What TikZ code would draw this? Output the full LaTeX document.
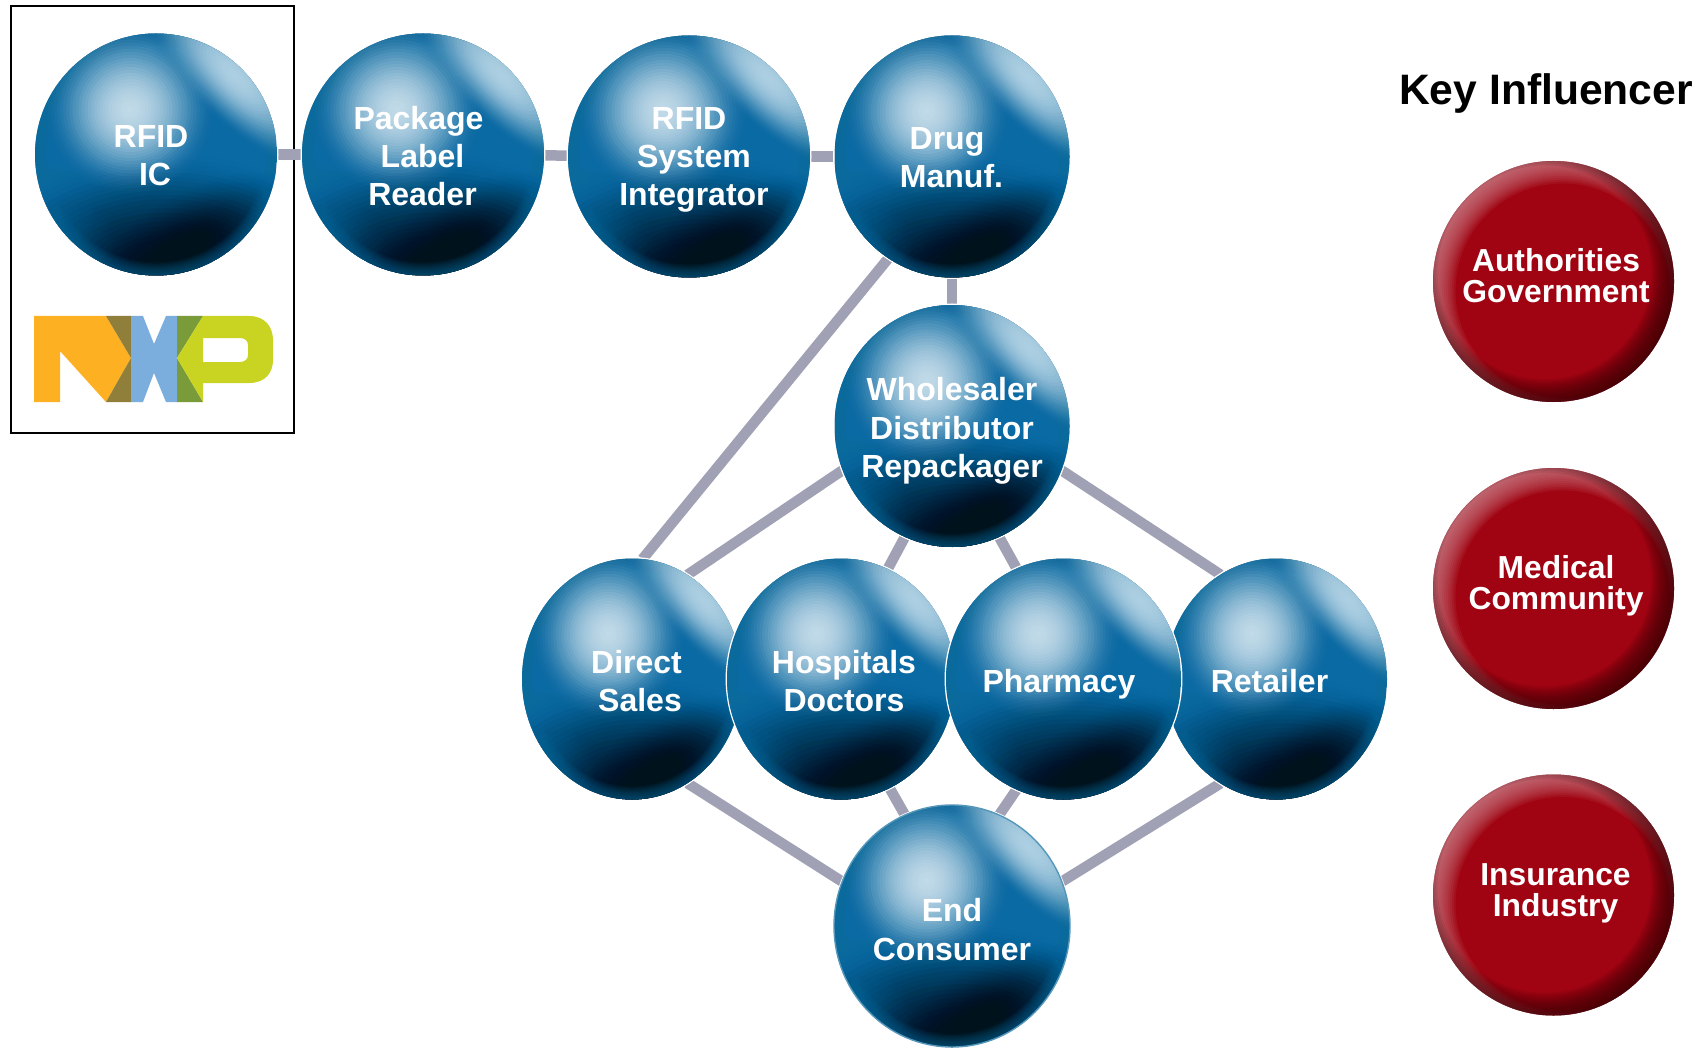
\documentclass[tikz,border=0pt]{standalone}
\usepackage{fontspec}
\setmainfont{Liberation Sans}
\usetikzlibrary{shapes.geometric}
\definecolor{linkgray}{HTML}{A0A1B4}
\definecolor{redbase}{HTML}{A00412}
\definecolor{redlight}{HTML}{D08C96}
\definecolor{reddark}{HTML}{300004}
\definecolor{band}{HTML}{B8D8EA}
\definecolor{hilite}{HTML}{CFE5F1}
\definecolor{darkblob}{HTML}{00121C}
\definecolor{rimblue}{HTML}{0E6A9C}
\definecolor{ballbase}{HTML}{0A6AA3}
\definecolor{balltop}{HTML}{2A88BB}
\definecolor{ballshade}{HTML}{001A2B}
\definecolor{nxporange}{HTML}{FDB122}
\definecolor{nxpbrown}{HTML}{8F7F3A}
\definecolor{nxpblue}{HTML}{7BAEDC}
\definecolor{nxpolive}{HTML}{7A9B3A}
\definecolor{nxplime}{HTML}{C8D322}
\tikzset{
 x=1pt,y=-1pt,
 hub/.style={ellipse,inner sep=0pt,outer sep=0pt},
 link/.style={draw=linkgray,line width=10.5pt},
 ballt/.style={text=white,font=\bfseries\fontsize{32}{38.3}\selectfont,align=center,inner sep=0pt},
 redt/.style={text=white,font=\bfseries\fontsize{31.8}{31}\selectfont,align=center,inner sep=0pt},
 keyt/.style={text=black,font=\bfseries\fontsize{42.6}{48}\selectfont,inner sep=0pt},
}
% \hubnode{name}{x}{y}{rx}{ry}
\newcommand{\hubnode}[5]{\node[hub,minimum width=#4*2pt,minimum height=#5*2pt] (#1) at (#2,#3) {};}
% \softblob{colour}{x}{y}{a}{b}{rotation}{opacity scale}
\newcommand{\softblob}[7]{%
 \begin{scope}[shift={(#2,#3)},rotate=#6]
  \foreach \k in {1,...,28} {\pgfmathsetmacro\opk{#7*2*(1-\k/29)}\fill[#1,opacity=\opk] (0,0) ellipse ({#4*\k/28} and {#5*\k/28});}
 \end{scope}}
% \paintblue{name}{rx}{ry}
\newcommand{\paintblue}[3]{%
 \begin{scope}[shift={(#1.center)},xscale=#2/121,yscale=#3/121]
  \fill[white] (0,0) circle (122.5);
  \clip (0,0) circle (121);
  \fill[ballbase] (-121,-121) rectangle (121,121);
  \softblob{balltop}{0}{-121}{200}{120}{0}{.03}
  \softblob{ballshade}{10}{125}{200}{125}{0}{.12}
  \softblob{rimblue}{-100}{80}{70}{70}{0}{.04}
  \softblob{darkblob}{40}{85}{110}{50}{28}{.05}
  \foreach \k in {0,...,11} {\fill[rimblue,opacity=.07,even odd rule] (0,0) circle (122) (0,0) circle ({108+\k*1.1});}
  \softblob{hilite}{-26}{-45}{85}{85}{0}{.107}
  \softblob{band}{79}{-79}{120}{45}{-45}{.12}
 \end{scope}}
\newcommand{\paintred}[1]{%
 \begin{scope}[shift={(#1.center)}]
  \clip (0,0) circle (120.5);
  \fill[redbase] (-121,-121) rectangle (121,121);
  \foreach \k in {0,...,13} {\fill[redlight,opacity=.09,even odd rule] (-125,-125) rectangle (125,125) (9,9) circle ({107+\k*1.9});}
  \foreach \k in {0,...,13} {\fill[reddark,opacity=.09,even odd rule] (-125,-125) rectangle (125,125) (-9,-9) circle ({107+\k*1.9});}
 \end{scope}}
\begin{document}
\begin{tikzpicture}
\useasboundingbox (0,0) rectangle (1704,1048);
\fill[white] (0,0) rectangle (1704,1048);
% frame
\node[draw=black,line width=1.6pt,minimum width=283pt,minimum height=427pt,inner sep=0pt] (frame) at (152.3,219.5) {};
% geometry of the hubs
\hubnode{ic}{156}{154.5}{121}{121}
\hubnode{pack}{423}{154.5}{121}{121}
\hubnode{rsi}{689}{156.5}{121}{121}
\hubnode{drug}{952}{156.5}{117.5}{121}
\hubnode{whole}{952}{426}{117.5}{121}
\hubnode{direct}{632}{679}{110}{120.5}
\hubnode{hosp}{841}{679}{114}{120.5}
\hubnode{pharm}{1063.5}{679}{117.5}{120.5}
\hubnode{retail}{1276}{679}{111}{120.5}
\hubnode{endc}{952}{926}{118}{121}
\hubnode{auth}{1553.5}{281.5}{120.5}{120.5}
\hubnode{med}{1553.5}{588.5}{120.5}{120.5}
\hubnode{insur}{1553.5}{895}{120.5}{120.5}
% connectors
\draw[link] (ic.center) -- (pack.center);
\draw[link] (pack.center) -- (rsi.center);
\draw[link] (rsi.center) -- (drug.center);
\draw[link] (drug.center) -- (whole.center);
\draw[link] (drug.238) -- (direct.85);
\draw[link] (whole.202) -- (direct.62);
\draw[link] (whole.247) -- (hosp.67);
\draw[link] (whole.293) -- (pharm.113);
\draw[link] (whole.338) -- (retail.118);
\draw[link] (direct.298) -- (endc.158);
\draw[link] (hosp.294) -- (endc.113);
\draw[link] (pharm.247) -- (endc.67);
\draw[link] (retail.242) -- (endc.22);
% spheres
\paintblue{ic}{121}{121}
\paintblue{pack}{121}{121}
\paintblue{rsi}{121}{121}
\paintblue{drug}{117.5}{121}
\paintblue{whole}{117.5}{121}
\paintblue{direct}{110}{120.5}
\paintblue{retail}{111}{120.5}
\paintblue{hosp}{114}{120.5}
\paintblue{pharm}{117.5}{120.5}
\paintblue{endc}{118}{121}
\draw[rimblue!70!white,line width=1.4pt] (endc.center) ellipse (118 and 121);
\paintred{auth}
\paintred{med}
\paintred{insur}
% labels
\node[ballt] (ict) at (155,156) {RFID\hspace*{8pt}\\IC};
\node[ballt] (packt) at (422.5,156) {Package\hspace*{8pt}\\Label\\Reader};
\node[ballt] (rsit) at (694,160) {RFID\hspace*{10pt}\\System\hspace*{10pt}\\Integrator};
\node[ballt] (drugt) at (951.5,158) {Drug\hspace*{9pt}\\Manuf.};
\node[ballt] (wholet) at (952,431) {Wholesaler\\Distributor\\Repackager};
\node[ballt] (directt) at (640,681) {Direct\hspace*{7pt}\\Sales};
\node[ballt] (hospt) at (844,681) {Hospitals\\Doctors};
\node[ballt] (pharmt) at (1059,684) {Pharmacy};
\node[ballt] (retailt) at (1269.5,681) {Retailer};
\node[ballt] (endct) at (952,929.5) {End\\Consumer};
\node[redt] (autht) at (1556,276) {Authorities\\Government};
\node[redt] (medt) at (1556,586) {Medical\\Community};
\node[redt] (insurt) at (1555.5,893) {Insurance\\Industry};
\node[keyt] (key) at (1546,93) {Key Influencer};
% NXP logo
\begin{scope}[shift={(34,316)}]
 \fill[nxporange] (0,0) -- (72,0) -- (97,42) -- (72,86) -- (26,35) -- (26,86) -- (0,86) -- cycle;
 \fill[nxpbrown] (72,0) -- (97,0) -- (97,42) -- cycle;
 \fill[nxpbrown] (97,42) -- (97,86) -- (72,86) -- cycle;
 \fill[nxpblue] (97,0) -- (109,0) -- (120,28) -- (132,0) -- (143,0) -- (143,86) -- (132,86) -- (120,57) -- (109,86) -- (97,86) -- cycle;
 \fill[nxpolive] (143,0) -- (169,0) -- (143,42) -- cycle;
 \fill[nxpolive] (143,42) -- (169,86) -- (143,86) -- cycle;
 \fill[nxplime,even odd rule] (143,42) -- (169,0) -- (215,0) .. controls (232,0) and (239,12) .. (239,24) -- (239,44) .. controls (239,56) and (232,67) .. (215,67) -- (169,67) -- (169,86) -- cycle
   (169,22) -- (206,22) .. controls (211,22) and (214,25) .. (214,29) -- (214,39) .. controls (214,43) and (211,46) .. (206,46) -- (169,46) -- cycle;
\end{scope}
\end{tikzpicture}
\end{document}
